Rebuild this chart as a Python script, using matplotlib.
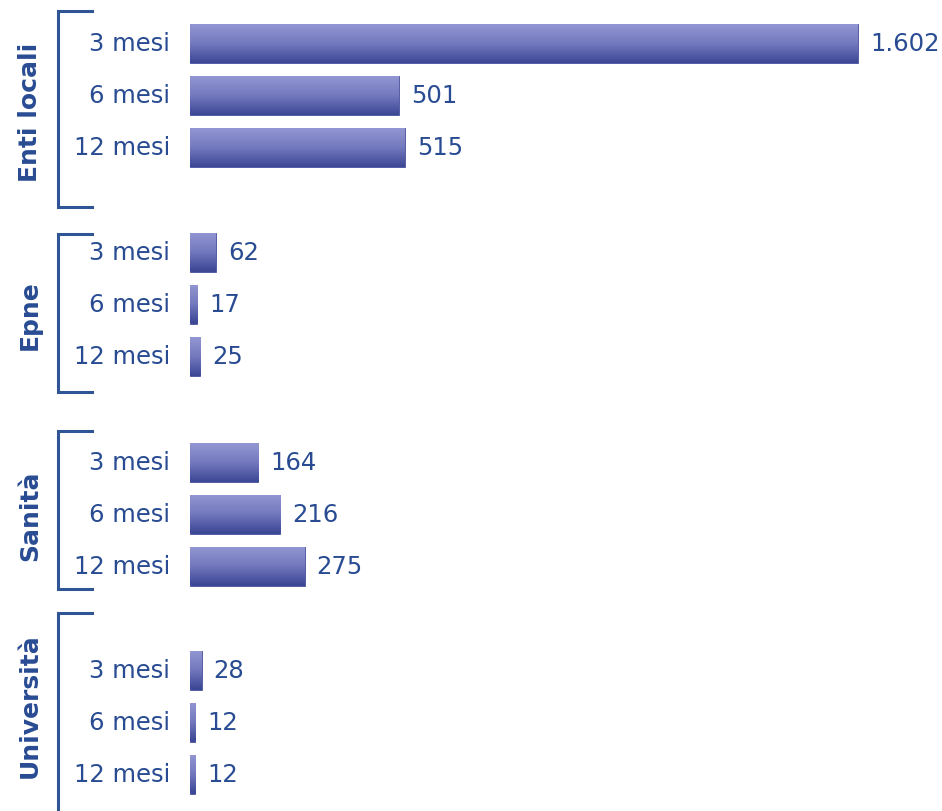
import matplotlib.pyplot as plt
import matplotlib.transforms as mtransforms
from matplotlib.colors import LinearSegmentedColormap
import numpy as np

plt.rcParams['font.family'] = ['DejaVu Sans']

# dati
gruppi = ['Enti locali', 'Epne', 'Sanità', 'Università']
durate = ['3 mesi', '6 mesi', '12 mesi']
enti_locali = [1602, 501, 515]
epne = [62, 17, 25]
sanita = [164, 216, 275]
universita = [28, 12, 12]
etichette = ['1.602', '501', '515', '62', '17', '25', '164', '216', '275', '28', '12', '12']

valori = [enti_locali, epne, sanita, universita]

# layout (coordinate verticali in pixel dall'alto)
W, H = 942, 812
primo_y = [44, 253, 463, 671]   # centro della prima barra di ogni gruppo
passo = 52
alt_barra = 39
staffe = [(12, 208), (235, 393), (432, 590), (614, 830)]
centro_gruppo = [112, 315, 516, 706]

testo_col = '#284b92'
staffa_col = '#2f5597'

fig = plt.figure(figsize=(W / 100, H / 100), dpi=100)
ax = fig.add_axes([0, 0, 1, 1])
scala = (858 - 190) / 1602.0
ax.set_xlim(-190 / scala, (W - 190) / scala)
ax.set_ylim(H, 0)
ax.axis('off')

trans = mtransforms.blended_transform_factory(ax.transAxes, ax.transData)

grad = np.linspace(0, 1, 64).reshape(-1, 1)
cmap = LinearSegmentedColormap.from_list('barra', ['#9296d2', '#7479be', '#3c4795'])

k = 0
for g, nome in enumerate(gruppi):
    ys = [primo_y[g] + i * passo for i in range(len(durate))]
    bars = ax.barh(ys, valori[g], height=alt_barra, left=0, color='#3c4795',
                   edgecolor='#4a549e', linewidth=0.6, zorder=1)
    for b, y, lab, v in zip(bars, ys, durate, valori[g]):
        x0, w = b.get_x(), b.get_width()
        y0, h = b.get_y(), b.get_height()
        im = ax.imshow(grad, cmap=cmap, aspect='auto', extent=(x0, x0 + w, y0 + h, y0),
                       origin='upper', interpolation='bilinear', zorder=2)
        im.set_clip_path(b)
        ax.text(170 / W, y, lab, transform=trans, ha='right', va='center',
                fontsize=17.5, color=testo_col)
        ax.text(x0 + w + 12 / scala, y, etichette[k], ha='left', va='center',
                fontsize=17.5, color=testo_col)
        k += 1
    # staffa
    t, bt = staffe[g]
    xs = np.array([92, 58, 58, 92]) / W
    ax.plot(xs, [t, t, bt, bt], transform=trans, color=staffa_col, lw=2.2,
            solid_joinstyle='miter', clip_on=False)
    ax.text(30 / W, centro_gruppo[g], nome, transform=trans, rotation=90,
            ha='center', va='center', fontsize=18, fontweight='bold', color=testo_col)

ax.set_ylim(H, 0)
fig.savefig('out.png', dpi=100, facecolor='white')
